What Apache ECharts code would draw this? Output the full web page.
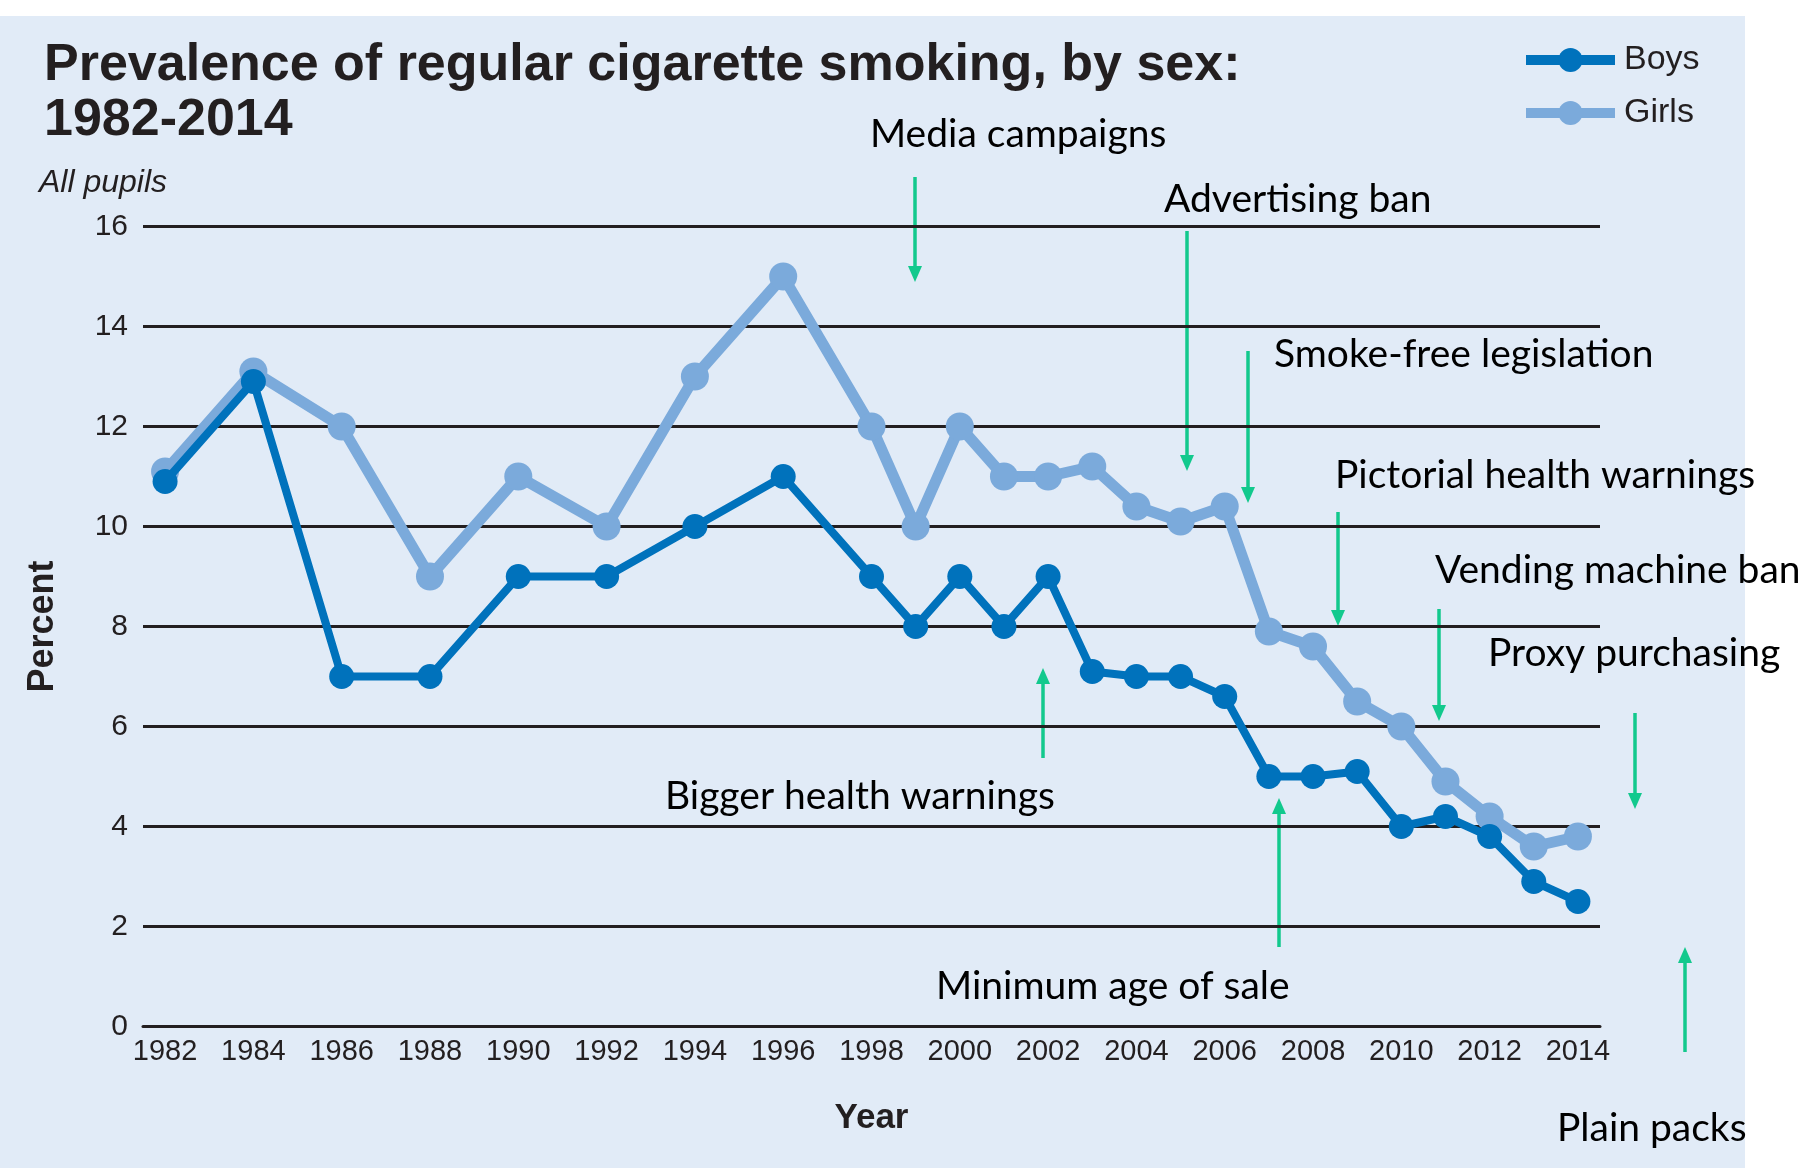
<!DOCTYPE html>
<html><head><meta charset="utf-8">
<script src="https://cdn.jsdelivr.net/npm/echarts@6/dist/echarts.min.js"></script>
<style>html,body{margin:0;padding:0;background:#fff}#c{width:1812px;height:1168px}</style>
</head><body><div id="c"></div>
<script>
// ---- data ----
const axisYears = [];
for (let y = 1982; y <= 2014; y++) axisYears.push(String(y));
const surveyYears = [1982,1984,1986,1988,1990,1992,1994,1996,1998,1999,2000,2001,2002,2003,2004,2005,2006,2007,2008,2009,2010,2011,2012,2013,2014];
const boys  = [10.9,12.9,7.0,7.0,9.0,9.0,10.0,11.0,9.0,8.0,9.0,8.0,9.0,7.1,7.0,7.0,6.6,5.0,5.0,5.1,4.0,4.2,3.8,2.9,2.5];
const girls = [11.1,13.1,12.0,9.0,11.0,10.0,13.0,15.0,12.0,10.0,12.0,11.0,11.0,11.2,10.4,10.1,10.4,7.9,7.6,6.5,6.0,4.9,4.2,3.6,3.8];
const annotationLabels = ['Media campaigns','Advertising ban','Smoke-free legislation','Pictorial health warnings','Vending machine ban','Proxy purchasing','Bigger health warnings','Minimum age of sale','Plain packs'];

// ---- annotation layout (pixels) ----
const annLayout = [
  {tx:870,  ty:134,  ax:915,  a1:177, a2:282},
  {tx:1164, ty:199,  ax:1187, a1:231, a2:471},
  {tx:1274, ty:354,  ax:1248, a1:351, a2:503},
  {tx:1335, ty:475,  ax:1338, a1:512, a2:626},
  {tx:1435, ty:570,  ax:1439, a1:609, a2:721},
  {tx:1488, ty:653,  ax:1635, a1:713, a2:809},
  {tx:665,  ty:796,  ax:1043, a1:758, a2:668},
  {tx:936,  ty:986,  ax:1279, a1:947, a2:798},
  {tx:1557, ty:1128, ax:1685, a1:1052, a2:947}
];
const GREEN = '#12C98D';
const graphics = [
  {type:'rect', z:-100, silent:true, shape:{x:0, y:16, width:1745, height:1152}, style:{fill:'#E1EBF7'}},
  {type:'text', x:39, y:183, style:{text:'All pupils', fontSize:32, fontStyle:'italic', fontFamily:'Liberation Sans', fill:'#231F20', verticalAlign:'middle'}}
];
annLayout.forEach((a, i) => {
  graphics.push({type:'text', x:a.tx, y:a.ty, style:{text:annotationLabels[i], fontSize:39, fontFamily:'Lato', fill:'#000', verticalAlign:'middle'}});
  const dir = a.a2 > a.a1 ? 1 : -1;
  const headLen = 16, headW = 7;
  const base = a.a2 - dir * headLen;
  graphics.push({type:'line', shape:{x1:a.ax, y1:a.a1, x2:a.ax, y2:base}, style:{stroke:GREEN, lineWidth:3.5}});
  graphics.push({type:'polygon', shape:{points:[[a.ax-headW, base],[a.ax+headW, base],[a.ax, a.a2]]}, style:{fill:GREEN}});
});

const chart = echarts.init(document.getElementById('c'));
chart.setOption({
  animation: false,
  backgroundColor: '#fff',
  title: {
    text: 'Prevalence of regular cigarette smoking, by sex:\n1982-2014',
    left: 44, top: 38, padding: 0,
    textStyle: {fontSize: 52, fontWeight: 'bold', lineHeight: 55, color: '#231F20', fontFamily: 'Liberation Sans'}
  },
  legend: {
    orient: 'vertical', left: 1516, top: 38, itemWidth: 89, itemHeight: 30, itemGap: 19,
    lineStyle: {width: 10},
    textStyle: {fontSize: 34, color: '#231F20', fontFamily: 'Liberation Sans', padding: [0,0,0,4]},
    data: ['Boys', 'Girls']
  },
  grid: {left: 143, right: 212, top: 226.5, bottom: 141.5, containLabel: false},
  xAxis: {
    type: 'category', data: axisYears, boundaryGap: true,
    axisLine: {lineStyle: {color: '#231F20', width: 3}},
    axisTick: {show: false},
    axisLabel: {interval: 1, fontSize: 29, color: '#231F20', margin: 11, fontFamily: 'Liberation Sans'},
    name: 'Year', nameLocation: 'middle', nameGap: 74,
    nameTextStyle: {fontWeight: 'bold', fontSize: 35, color: '#231F20', fontFamily: 'Liberation Sans'}
  },
  yAxis: {
    type: 'value', min: 0, max: 16, interval: 2,
    axisLine: {show: false}, axisTick: {show: false},
    splitLine: {lineStyle: {color: '#231F20', width: 3}},
    axisLabel: {fontSize: 30, color: '#231F20', margin: 15, fontFamily: 'Liberation Sans'},
    name: 'Percent', nameLocation: 'middle', nameGap: 82, nameRotate: 90,
    nameTextStyle: {fontWeight: 'bold', fontSize: 36, color: '#231F20', fontFamily: 'Liberation Sans'}
  },
  graphic: graphics,
  series: [
    {name: 'Girls', type: 'line', z: 2, data: surveyYears.map((y, i) => [String(y), girls[i]]),
     symbol: 'circle', symbolSize: 28, lineStyle: {width: 11, color: '#7BAADB'}, itemStyle: {color: '#7BAADB'}},
    {name: 'Boys', type: 'line', z: 3, data: surveyYears.map((y, i) => [String(y), boys[i]]),
     symbol: 'circle', symbolSize: 25, lineStyle: {width: 8, color: '#0072BC'}, itemStyle: {color: '#0072BC'}}
  ]
});
</script></body></html>
